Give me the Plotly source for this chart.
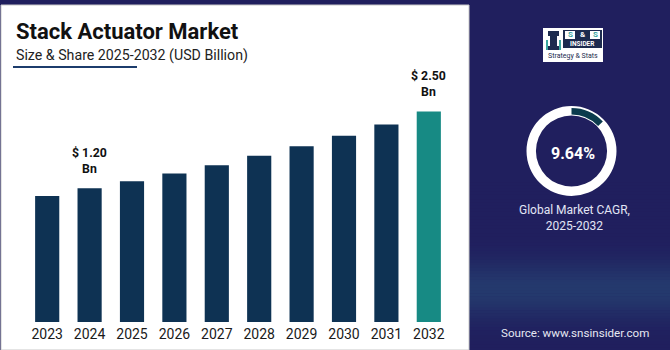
import plotly.graph_objects as go
import math

# ---------------- data ----------------
YEARS = ["2023", "2024", "2025", "2026", "2027", "2028", "2029", "2030", "2031", "2032"]
VALUES = [1.07, 1.20, 1.32, 1.45, 1.59, 1.75, 1.91, 2.09, 2.28, 2.50]
LABELLED = {"2024": "$ 1.20<br>Bn", "2032": "$ 2.50<br>Bn"}
CAGR_TEXT = "9.64%"
ARC_SHARE = [13, 87]
TITLE = "Stack Actuator Market"
SUBTITLE = "Size & Share 2025-2032 (USD Billion)"
CAGR_LABEL = "Global Market CAGR,<br>2025-2032"
SOURCE = "Source: www.snsinsider.com"

W, H = 670, 350
BASE = -1.06  # visual axis floor (truncated axis as in reference)

NAVY = "#0e3253"
TEAL = "#178a84"
BG = "#201f5e"
FONT = "Roboto"


def px(x):
    return x / W


def py(y):
    return 1 - y / H


fig = go.Figure()

bar_colors = [NAVY] * (len(YEARS) - 1) + [TEAL]
fig.add_trace(go.Bar(
    x=YEARS,
    y=[v - BASE for v in VALUES],
    base=[BASE] * len(YEARS),
    width=0.57,
    marker=dict(color=bar_colors, line=dict(width=0)),
    hoverinfo="skip",
    showlegend=False,
))

CX, CY = 571.5, 151
# donut ring
fig.add_trace(go.Pie(
    values=[1], marker=dict(colors=["white"], line=dict(width=0)),
    hole=0.79, sort=False, textinfo="none", hoverinfo="skip", showlegend=False,
    domain=dict(x=[px(CX - 45), px(CX + 45)], y=[py(CY + 45), py(CY - 45)]),
))
# donut arc
fig.add_trace(go.Pie(
    values=ARC_SHARE,
    marker=dict(colors=["#0b3b4d", "rgba(0,0,0,0)"], line=dict(width=0)),
    hole=0.85, sort=False, direction="clockwise", rotation=0,
    textinfo="none", hoverinfo="skip", showlegend=False,
    domain=dict(x=[px(CX - 43), px(CX + 43)], y=[py(CY + 43), py(CY - 43)]),
))

shapes = []
# gradient band on the right side background
for i in range(60):
    y0 = 180 + i * 170 / 60
    y1 = y0 + 170 / 60 + 0.5
    yc = (y0 + y1) / 2
    t = math.exp(-((yc - 290) / 28) ** 2)
    r = int(32 + (37 - 32) * t)
    g = int(31 + (58 - 31) * t)
    b = int(94 + (110 - 94) * t)
    shapes.append(dict(type="rect", xref="paper", yref="paper", layer="below",
                       x0=px(465), x1=1, y0=py(y1), y1=py(y0),
                       fillcolor=f"rgb({r},{g},{b})", line=dict(width=0)))
# white card
shapes.append(dict(type="rect", xref="paper", yref="paper", layer="below",
                   x0=px(1), x1=px(469), y0=py(350), y1=py(5),
                   fillcolor="white", line=dict(color="#c8c8c8", width=1)))
# subtitle underline
shapes.append(dict(type="line", xref="paper", yref="paper",
                   x0=px(13), x1=px(137), y0=py(67), y1=py(67),
                   line=dict(color="#1c3c6c", width=2)))
# logo box
shapes.append(dict(type="rect", xref="paper", yref="paper",
                   x0=px(543), x1=px(603), y0=py(62), y1=py(28),
                   fillcolor="white", line=dict(width=0)))
shapes.append(dict(type="rect", xref="paper", yref="paper",
                   x0=px(563), x1=px(602), y0=py(48), y1=py(30),
                   fillcolor="#1d2b4f", line=dict(width=0)))
shapes.append(dict(type="rect", xref="paper", yref="paper",
                   x0=px(565), x1=px(575), y0=py(39), y1=py(31),
                   fillcolor="white", line=dict(width=0)))
shapes.append(dict(type="rect", xref="paper", yref="paper",
                   x0=px(590), x1=px(600), y0=py(39), y1=py(31),
                   fillcolor="white", line=dict(width=0)))
# rook icon
shapes.append(dict(type="rect", xref="paper", yref="paper",
                   x0=px(548), x1=px(559), y0=py(50), y1=py(46),
                   fillcolor="#1d2b4f", line=dict(width=0)))
shapes.append(dict(type="rect", xref="paper", yref="paper",
                   x0=px(550), x1=px(557), y0=py(46), y1=py(36),
                   fillcolor="#1d2b4f", line=dict(width=0)))
shapes.append(dict(type="rect", xref="paper", yref="paper",
                   x0=px(548), x1=px(559), y0=py(36), y1=py(31),
                   fillcolor="#1d2b4f", line=dict(width=0)))
shapes.append(dict(type="rect", xref="paper", yref="paper",
                   x0=px(546), x1=px(548), y0=py(50), y1=py(40),
                   fillcolor="#3aa7a0", line=dict(width=0)))
shapes.append(dict(type="rect", xref="paper", yref="paper",
                   x0=px(559), x1=px(561), y0=py(50), y1=py(40),
                   fillcolor="#3aa7a0", line=dict(width=0)))

annotations = [
    dict(text=f"<b>{TITLE}</b>", x=px(14), y=py(31.5), xanchor="left", yanchor="middle",
         font=dict(family=FONT, size=22, color="#111111")),
    dict(text=SUBTITLE, x=px(14), y=py(55.5), xanchor="left", yanchor="middle",
         font=dict(family=FONT, size=14.2, color="#222222")),
    dict(text=f"<b>{CAGR_TEXT}</b>", x=px(573), y=py(153), xanchor="center", yanchor="middle",
         font=dict(family=FONT, size=16, color="white")),
    dict(text=CAGR_LABEL, x=px(574), y=py(218), xanchor="center", yanchor="middle",
         font=dict(family=FONT, size=12, color="#e2e5f5")),
    dict(text=SOURCE, x=px(575), y=py(333), xanchor="center", yanchor="middle",
         font=dict(family=FONT, size=11.6, color="#e6e8f2")),
    # logo text
    dict(text="<b>S</b>", x=px(570), y=py(35), xanchor="center", yanchor="middle",
         font=dict(family=FONT, size=8, color="#3aa7a0")),
    dict(text="<b>&</b>", x=px(582.5), y=py(35), xanchor="center", yanchor="middle",
         font=dict(family=FONT, size=8, color="white")),
    dict(text="<b>S</b>", x=px(595), y=py(35), xanchor="center", yanchor="middle",
         font=dict(family=FONT, size=8, color="#3aa7a0")),
    dict(text="<b>INSIDER</b>", x=px(582.5), y=py(43.5), xanchor="center", yanchor="middle",
         font=dict(family=FONT, size=6.5, color="white")),
    dict(text="Strategy & Stats", x=px(573), y=py(55.5), xanchor="center", yanchor="middle",
         font=dict(family=FONT, size=7, color="#1d2b4f")),
]
for a in annotations:
    a.setdefault("xref", "paper")
    a.setdefault("yref", "paper")
    a.setdefault("showarrow", False)

for yr, txt in LABELLED.items():
    i = YEARS.index(yr)
    annotations.append(dict(
        text=f"<b>{txt}</b>", x=i, y=VALUES[i], xref="x", yref="y",
        xanchor="center", yanchor="bottom", yshift=10.5, showarrow=False,
        font=dict(family=FONT, size=12.3, color="#111111"),
    ))

fig.update_layout(
    width=W, height=H,
    margin=dict(l=0, r=0, t=0, b=0),
    paper_bgcolor=BG,
    plot_bgcolor="rgba(0,0,0,0)",
    shapes=shapes,
    annotations=annotations,
    xaxis=dict(type="category", categoryorder="array", categoryarray=YEARS,
               range=[-0.5, len(YEARS) - 0.5],
               domain=[px(26), px(450)], showgrid=False, zeroline=False,
               showline=False, ticks="", ticklabelstandoff=2,
               tickfont=dict(family=FONT, size=14, color="#1a1a1a"), fixedrange=True),
    yaxis=dict(domain=[py(322), py(60)], range=[BASE, 3.37], visible=False, fixedrange=True),
    font=dict(family=FONT),
)

fig.write_html("out.html", config={"displayModeBar": False})
